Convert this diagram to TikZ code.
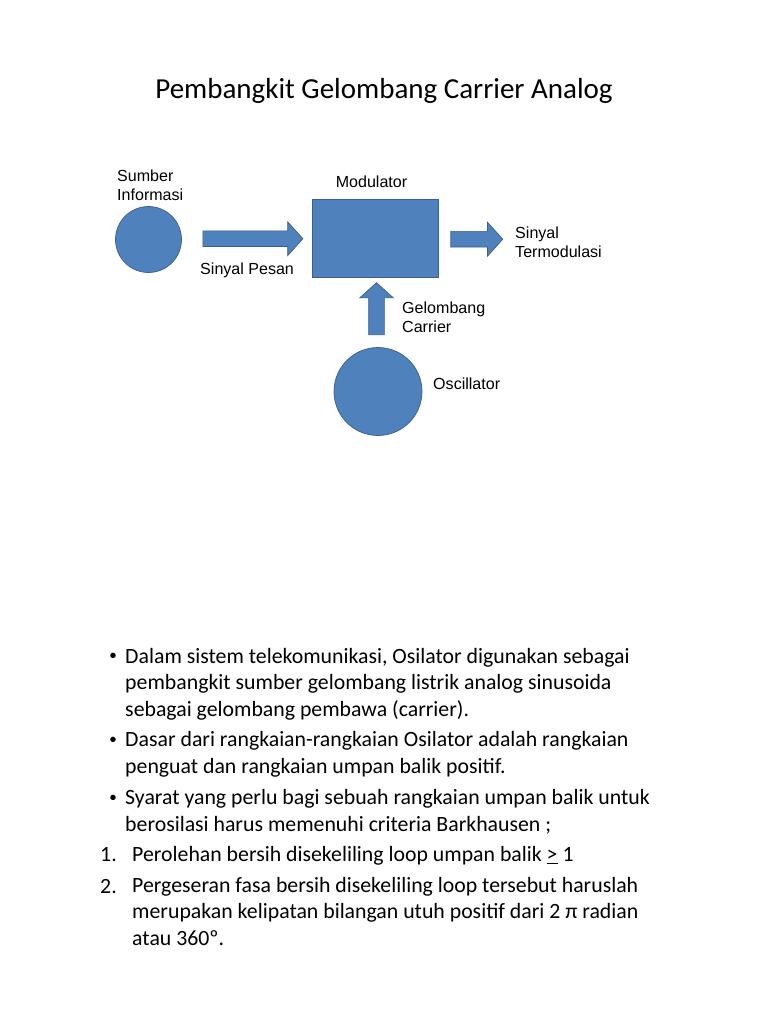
\documentclass[tikz,border=0pt]{standalone}
\usepackage{fontspec}
\setmainfont{Carlito}
\newfontfamily\arialfont{Liberation Sans}
\usetikzlibrary{shapes.arrows, positioning, calc}
\definecolor{boxblue}{HTML}{4F81BD}
\definecolor{edgeblue}{HTML}{3A5F8B}

\begin{document}
\begin{tikzpicture}[x=0.03cm, y=-0.03cm,
  blob/.style={circle, fill=boxblue, draw=edgeblue, line width=0.6pt, inner sep=0pt},
  modbox/.style={rectangle, fill=boxblue, draw=edgeblue, line width=0.6pt,
                 minimum width=3.78cm, minimum height=2.34cm},
  fat/.style={single arrow, fill=boxblue, draw=edgeblue, line width=0.6pt,
              inner sep=0pt, inner ysep=0.225cm,
              single arrow head extend=0.27cm, single arrow tip angle=96},
  lbl/.style={font=\arialfont\fontsize{13.7}{16.2}\selectfont, inner sep=0pt, align=left},
  body/.style={font=\fontsize{18.6}{22.6}\selectfont, inner sep=0pt, align=left},
  bul/.style={font=\arialfont\fontsize{17}{20}\selectfont, inner sep=0pt, anchor=base},
]
\useasboundingbox[fill=white] (0,0) rectangle (768,1024);

\node[font=\fontsize{24.75}{30}\selectfont, anchor=base, inner sep=0pt]
  (judul) at (384,98) {Pembangkit Gelombang Carrier Analog};

% blok diagram
\node[blob, minimum size=1.98cm] (sumber) at (148.5,239.5) {};
\node[modbox] (mod) at (375,238) {};
\node[blob, minimum size=2.64cm] (osc) at (378,391.5) {};
\coordinate (keluar) at (511,240.5);

\path (sumber.east) -- node[fat, pos=0.52, minimum height=3cm] (pesan) {} (mod.west);
\path (mod.east) -- node[fat, pos=0.48, minimum height=1.56cm] (termod) {} (keluar);
\path (osc.north) -- node[fat, pos=0.5, rotate=90, minimum height=1.56cm] (carrier) {} (mod.south);

% label (base = baris terakhir)
\node[lbl, anchor=base west] (lsumber) at (117,200) {Sumber\\Informasi};
\node[lbl, anchor=base] (lmod) at (371.5,187) {Modulator};
\node[lbl, anchor=base west] (lpesan) at (200,274) {Sinyal Pesan};
\node[lbl, anchor=base west] (ltermod) at (515,257) {Sinyal\\Termodulasi};
\node[lbl, anchor=base west] (lcarrier) at (402,332) {Gelombang\\Carrier};
\node[lbl, anchor=base west] (losc) at (433,389) {Oscillator};

% teks
\node[bul] (m1) at (113,662) {•};
\node[body, anchor=base west] (t1) at (125,716)
  {Dalam sistem telekomunikasi, Osilator digunakan sebagai\\
   pembangkit sumber gelombang listrik analog sinusoida\\
   sebagai gelombang pembawa (carrier).};
\node[bul] (m2) at (113,746) {•};
\node[body, anchor=base west] (t2) at (125,773)
  {Dasar dari rangkaian-rangkaian Osilator adalah rangkaian\\
   penguat dan rangkaian umpan balik positif.};
\node[bul] (m3) at (113,804) {•};
\node[body, anchor=base west] (t3) at (125,831)
  {Syarat yang perlu bagi sebuah rangkaian umpan balik untuk\\
   berosilasi harus memenuhi criteria Barkhausen ;};
\node[body, anchor=base west] (m4) at (100,861.7) {1.};
\node[body, anchor=base west] (t4) at (132,861.7)
  {Perolehan bersih disekeliling loop umpan balik \underline{>} 1};
\node[body, anchor=base west] (m5) at (100,893) {2.};
\node[body, anchor=base west] (t5) at (132,945)
  {Pergeseran fasa bersih disekeliling loop tersebut haruslah\\
   merupakan kelipatan bilangan utuh positif dari 2 π radian\\
   atau 360º.};
\end{tikzpicture}
\end{document}
